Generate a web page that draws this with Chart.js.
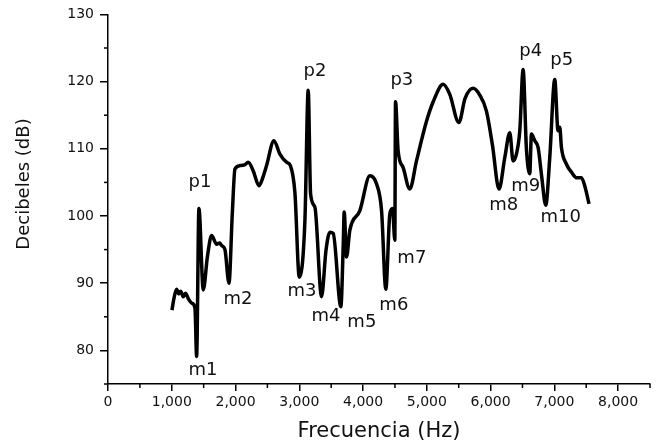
<!DOCTYPE html>
<html>
<head>
<meta charset="utf-8">
<script src="https://cdn.jsdelivr.net/npm/chart.js@4/dist/chart.umd.min.js"></script>
<style>
  html, body { margin: 0; padding: 0; background: #fff; }
  #wrap { width: 659px; height: 444px; }
</style>
</head>
<body>
<div id="wrap"><canvas id="chart"></canvas></div>
<script>
// Frequency response
const freqHz = [
    1003, 1040, 1076, 1110, 1140, 1180, 1215, 1259, 1320, 1364,
    1390, 1426, 1494, 1560, 1625, 1703, 1750, 1782, 1834, 1897,
    1950, 1991, 2069, 2140, 2199, 2278, 2367, 2420, 2487, 2602,
    2696, 2800, 2860, 2931, 3000, 3088, 3140, 3177, 3245, 3349,
    3420, 3480, 3532, 3652, 3690, 3704, 3741, 3793, 3950, 4107,
    4211, 4290, 4357, 4420, 4462, 4498, 4509, 4550, 4629, 4733,
    4838, 4995, 5100, 5256, 5360, 5502, 5600, 5726, 5830, 5935,
    6030, 6132, 6223, 6301, 6353, 6405, 6458, 6510, 6562, 6614,
    6641, 6693, 6745, 6800, 6865, 6928, 7006, 7058, 7085, 7111,
    7190, 7270, 7346, 7425, 7476, 7544
];
const dbLevel = [
    86.0, 88.0, 89.1, 88.4, 88.8, 88.0, 88.5, 87.7, 87.0, 86.3,
    79.1, 101.1, 89.0, 94.0, 97.1, 95.8, 96.0, 95.6, 95.0, 90.0,
    100.5, 107.0, 107.5, 107.6, 108.0, 106.7, 104.5, 105.5, 107.5, 111.2,
    109.2, 108.0, 107.5, 103.5, 90.9, 99.3, 118.7, 103.3, 101.3, 88.0,
    95.0, 97.6, 97.4, 86.5, 96.0, 100.6, 93.9, 97.9, 100.8, 106.0,
    104.8, 100.8, 89.1, 100.3, 101.1, 96.4, 117.0, 109.7, 107.2, 104.0,
    108.2, 114.1, 117.0, 119.6, 118.1, 113.9, 117.5, 119.0, 118.0, 115.6,
    110.5, 104.0, 108.7, 112.4, 108.2, 109.2, 112.7, 121.8, 110.0, 106.3,
    112.2, 111.2, 110.2, 106.0, 101.6, 108.7, 120.3, 112.7, 113.2, 110.2,
    107.7, 106.5, 105.7, 105.7, 104.5, 101.8
];

// Peak / minimum labels
const markNames = ['p1', 'p2', 'p3', 'p4', 'p5',
    'm1', 'm2', 'm3', 'm4', 'm5', 'm6', 'm7', 'm8', 'm9', 'm10'];
const markHz = [1442, 3245, 4608, 6630, 7116,
    1489, 2038, 3041, 3417, 3981, 4483, 4765, 6207, 6552, 7100];
const markDb = [105.0, 121.6, 120.2, 124.5, 123.2,
    77.1, 87.6, 88.8, 85.0, 84.2, 86.7, 93.7, 101.6, 104.4, 99.8];

const xMin = 0, xMax = 8500, xStep = 500;
const yMin = 75, yMax = 130, yStep = 5;

const points = freqHz.map(function(f, i) {
    return { x: f, y: dbLevel[i] };
});

// minor ticks, mark labels and the y title
const extrasPlugin = {
    id: 'extras',
    afterDraw: function(chart) {
        const ctx = chart.ctx;
        const xs = chart.scales.x;
        const ys = chart.scales.y;
        ctx.save();
        ctx.strokeStyle = '#000';
        ctx.lineWidth = 1.5;
        // minor ticks
        for (let v = xMin; v <= xMax; v += xStep) {
            if (v % 1000 === 0) continue;
            const px = xs.getPixelForValue(v);
            ctx.beginPath();
            ctx.moveTo(px, xs.top);
            ctx.lineTo(px, xs.top + 4);
            ctx.stroke();
        }
        for (let v = yMin; v <= yMax; v += yStep) {
            if (v % 10 === 0) continue;
            const py = ys.getPixelForValue(v);
            ctx.beginPath();
            ctx.moveTo(ys.right, py);
            ctx.lineTo(ys.right - 4, py);
            ctx.stroke();
        }
        // labels
        ctx.fillStyle = '#111';
        ctx.font = '18px "DejaVu Sans"';
        ctx.textAlign = 'center';
        ctx.textBaseline = 'middle';
        markNames.forEach(function(name, i) {
            ctx.fillText(name, xs.getPixelForValue(markHz[i]), ys.getPixelForValue(markDb[i]));
        });
        // y title
        ctx.translate(24, 184);
        ctx.rotate(-Math.PI / 2);
        ctx.font = '18px "DejaVu Sans"';
        ctx.fillText('Decibeles (dB)', 0, 0);
        ctx.restore();
    }
};

new Chart(document.getElementById('chart'), {
    type: 'line',
    data: {
        datasets: [{
            data: points,
            borderColor: '#000',
            borderWidth: 3.5,
            pointRadius: 0,
            fill: false,
            tension: 0.4,
            cubicInterpolationMode: 'monotone'
        }]
    },
    options: {
        responsive: true,
        maintainAspectRatio: false,
        animation: false,
        layout: { padding: { top: 13, right: 9, left: 0, bottom: 0 } },
        plugins: {
            legend: { display: false },
            tooltip: { enabled: false }
        },
        scales: {
            x: {
                type: 'linear',
                min: xMin,
                max: xMax,
                afterFit: function(scale) { scale.height = 60; },
                border: { display: true, color: '#000', width: 1.5 },
                grid: {
                    drawOnChartArea: false,
                    tickLength: 7,
                    lineWidth: 1.5,
                    tickColor: function(c) {
                        return c.tick && c.tick.value % 1000 === 0 ? '#000' : 'rgba(0,0,0,0)';
                    }
                },
                ticks: {
                    stepSize: xStep,
                    autoSkip: false,
                    maxRotation: 0,
                    padding: 3,
                    color: '#111',
                    font: { family: 'DejaVu Sans', size: 14 },
                    callback: function(v) {
                        return v % 1000 === 0 ? v.toLocaleString('en-US') : '';
                    }
                },
                title: {
                    display: true,
                    text: 'Frecuencia (Hz)',
                    color: '#111',
                    font: { family: 'DejaVu Sans', size: 21 },
                    padding: { top: 0, bottom: 0 }
                }
            },
            y: {
                min: yMin,
                max: yMax,
                afterFit: function(scale) { scale.width = 108; },
                border: { display: true, color: '#000', width: 1.5 },
                grid: {
                    drawOnChartArea: false,
                    tickLength: 8,
                    lineWidth: 1.5,
                    tickColor: function(c) {
                        return c.tick && c.tick.value % 10 === 0 ? '#000' : 'rgba(0,0,0,0)';
                    }
                },
                ticks: {
                    stepSize: yStep,
                    autoSkip: false,
                    padding: 6,
                    color: '#111',
                    font: { family: 'DejaVu Sans', size: 14 },
                    callback: function(v) {
                        return v % 10 === 0 ? String(v) : '';
                    }
                }
            }
        }
    },
    plugins: [extrasPlugin]
});
</script>
</body>
</html>
